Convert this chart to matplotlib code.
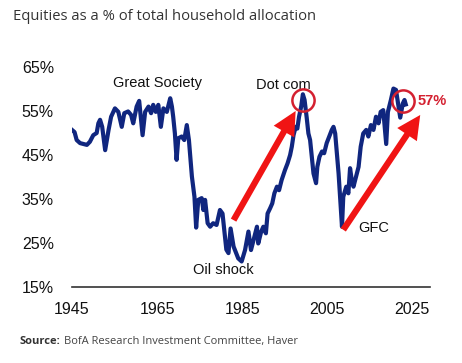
import matplotlib.pyplot as plt

# Equities as share of household allocation
years = [1945.0, 1945.6, 1946.1, 1946.9, 1948.5, 1949.2, 1950.0, 1950.8, 1951.2, 1951.6,
         1952.1, 1952.8, 1953.6, 1954.2, 1955.1, 1955.9, 1956.7, 1957.3, 1958.2, 1958.9,
         1959.4, 1960.2, 1960.8, 1961.6, 1962.2, 1963.0, 1963.6, 1964.1, 1964.7, 1965.3,
         1965.9, 1966.5, 1967.3, 1968.1, 1968.5, 1968.8, 1969.2, 1969.6, 1970.0, 1970.8,
         1971.4, 1972.0, 1972.5, 1973.2, 1973.8, 1974.2, 1974.7, 1975.5, 1975.9, 1976.3,
         1976.9, 1977.5, 1978.2, 1979.0, 1979.8, 1980.4, 1980.8, 1981.3, 1981.8, 1982.3,
         1983.0, 1984.1, 1984.9, 1985.7, 1986.5, 1987.1, 1987.7, 1988.5, 1988.8, 1989.5,
         1990.0, 1990.6, 1991.0, 1991.6, 1992.1, 1992.6, 1993.2, 1993.7, 1994.3, 1995.1,
         1995.7, 1996.3, 1996.7, 1997.1, 1997.6, 1998.0, 1998.4, 1998.9, 1999.3, 1999.7,
         2000.2, 2000.6, 2001.0, 2001.4, 2001.8, 2002.4, 2002.7, 2003.2, 2003.8, 2004.3,
         2004.9, 2005.5, 2006.1, 2006.5, 2006.9, 2007.3, 2007.7, 2008.1, 2008.5, 2008.8,
         2009.5, 2010.0, 2010.4, 2010.8, 2011.2, 2011.8, 2012.4, 2012.9, 2013.5, 2014.2,
         2014.7, 2015.3, 2015.9, 2016.5, 2017.1, 2017.6, 2018.2, 2018.9, 2019.3, 2020.0,
         2020.6, 2021.2, 2021.8, 2022.2, 2022.8, 2023.2, 2023.5]
equity_pct = [50.7, 50.2, 48.4, 47.7, 47.3, 48.0, 49.5, 50.0, 52.2, 53.0,
              51.4, 46.1, 50.7, 53.7, 55.6, 54.8, 51.4, 54.5, 54.9, 54.1,
              52.2, 56.0, 57.3, 49.5, 54.8, 56.0, 54.5, 56.4, 54.8, 56.4,
              51.4, 55.6, 54.8, 57.9, 56.0, 53.7, 49.9, 43.9, 48.8, 49.2,
              48.4, 51.8, 48.4, 40.1, 35.5, 28.5, 34.8, 35.2, 32.5, 34.8,
              29.5, 28.7, 29.5, 29.1, 32.5, 31.7, 28.0, 23.5, 22.7, 28.3,
              24.2, 21.5, 20.8, 23.4, 27.6, 23.4, 25.7, 28.7, 24.9, 27.6,
              28.7, 27.2, 31.7, 32.9, 34.0, 36.3, 37.8, 37.0, 39.3, 41.6,
              43.1, 45.0, 46.9, 49.5, 51.4, 51.0, 53.7, 56.0, 58.8, 57.5,
              53.5, 49.9, 48.4, 44.6, 40.8, 38.6, 42.3, 44.6, 45.8, 45.4,
              47.7, 49.2, 50.7, 51.4, 49.9, 45.4, 40.8, 34.8, 28.7, 35.5,
              37.8, 36.3, 42.0, 39.3, 37.8, 40.1, 42.3, 46.9, 49.9, 50.7,
              49.2, 51.8, 50.7, 53.7, 52.2, 54.8, 55.2, 47.5, 54.8, 57.5,
              60.1, 59.8, 56.0, 53.5, 56.7, 57.5, 56.5]

x_ticks = [1945, 1965, 1985, 2005, 2025]
y_ticks = [15, 25, 35, 45, 55, 65]

# annotations
labels = ["Great Society", "Dot com", "Oil shock", "GFC"]
label_x = [1965.0, 1994.7, 1980.5, 2016.0]
label_y = [61.3, 60.9, 18.9, 28.4]
arrow_tail = [(1983.0, 30.2), (2008.8, 28.0)]
arrow_tip = [(1997.6, 55.0), (2026.9, 54.1)]
circle_x = [1999.3, 2022.9]
circle_y = [57.4, 57.3]

fig = plt.figure(figsize=(4.62, 3.63), dpi=100)
ax = fig.add_axes([72 / 462, 1 - 287 / 363, (430 - 72) / 462, (287 - 67) / 363])

ax.plot(years, equity_pct, color='#10267f', lw=3.0, solid_joinstyle='round', zorder=3)

for tail, tip in zip(arrow_tail, arrow_tip):
    ax.annotate('', xy=tip, xytext=tail,
                arrowprops=dict(arrowstyle='simple,head_length=1.7,head_width=1.7,tail_width=0.45',
                                mutation_scale=10, color='#f01414', lw=0, shrinkA=0, shrinkB=0),
                zorder=4)

ax.plot(circle_x, circle_y, 'o', ms=16, mfc='none', mec='#d42030', mew=1.8, zorder=5, clip_on=False)
ax.text(2026.3, 57.2, '57%', color='#d42030', fontsize=10.5, fontweight='bold',
        va='center', ha='left', family='Liberation Sans')

for lab, lx, ly in zip(labels, label_x, label_y):
    ax.text(lx, ly, lab, fontsize=10.5, ha='center', va='center', color='#111111',
            family='Liberation Sans')

ax.set_xlim(1945, 2029.2)
ax.set_ylim(15, 65)
ax.set_xticks(x_ticks)
ax.set_yticks(y_ticks)
ax.set_yticklabels([f'{v}%' for v in y_ticks])
ax.tick_params(length=0, labelsize=11.5, labelcolor='#111111')
ax.tick_params(axis='y', pad=13)
ax.tick_params(axis='x', pad=11)
for lab in ax.get_xticklabels() + ax.get_yticklabels():
    lab.set_family('Liberation Sans')

for side in ['top', 'right', 'left']:
    ax.spines[side].set_visible(False)
ax.spines['bottom'].set_color('#333333')
ax.spines['bottom'].set_linewidth(1.2)

fig.text(13 / 462, 1 - 20 / 363, 'Equities as a % of total household allocation',
         fontsize=10.6, color='#333333', va='baseline', ha='left', family='Open Sans')
t = fig.text(20 / 462, 1 - 344 / 363, 'Source:', fontsize=8, fontweight='bold',
             color='#333333', va='baseline', ha='left', family='Open Sans')
fig.canvas.draw()
bb = t.get_window_extent()
fig.text((bb.x1 + 3) / 462, 1 - 344 / 363, 'BofA Research Investment Committee, Haver',
         fontsize=8, color='#444444', va='baseline', ha='left', family='Open Sans')

fig.savefig('out.png', dpi=100)
